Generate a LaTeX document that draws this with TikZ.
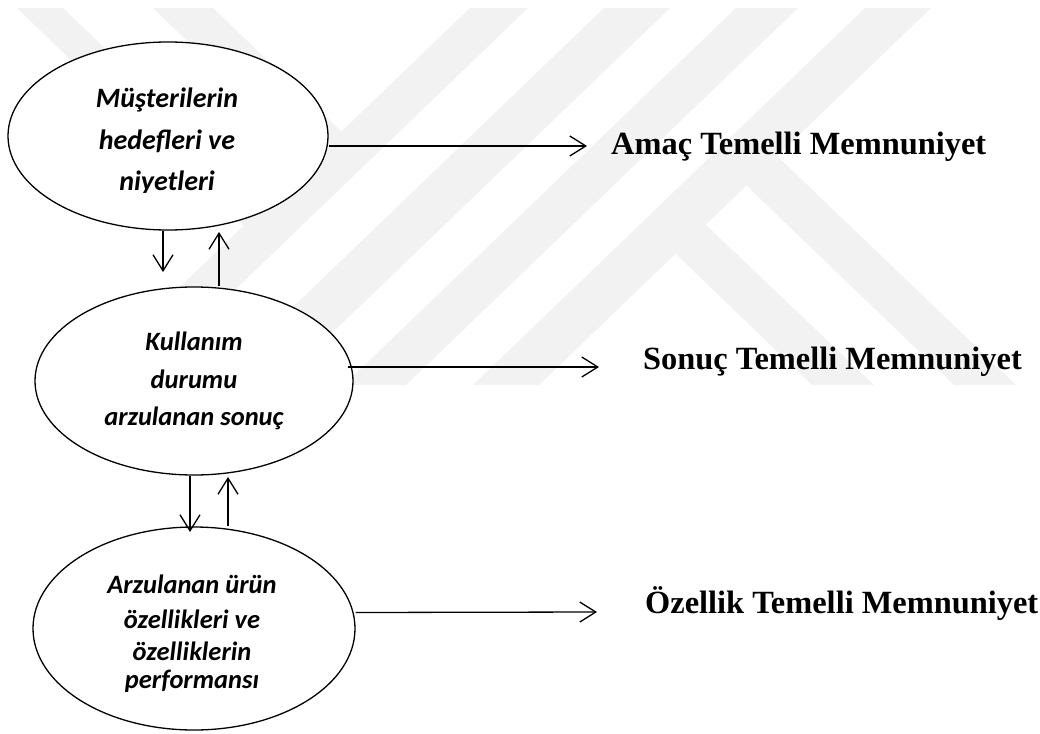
\documentclass[tikz,border=0pt]{standalone}
\usepackage{fontspec}
\setmainfont{Liberation Serif}
\newfontfamily\calib{Carlito}
\usetikzlibrary{arrows.meta,shapes.geometric}

\begin{document}
\begin{tikzpicture}[x=1pt,y=-1pt,
  bubble/.style={draw,ellipse,line width=1.3pt,fill=white,inner sep=0pt},
  bline/.style={anchor=base,inner sep=0pt,font=\calib\bfseries\itshape\fontsize{26.5}{30}\selectfont},
  bigline/.style={bline,font=\calib\bfseries\itshape\fontsize{28}{32}\selectfont},
  result/.style={anchor=base west,inner sep=0pt,font=\bfseries\fontsize{32.4}{38}\selectfont},
  flow/.style={line width=1.3pt,-{Straight Barb[length=16pt,width=20pt]}},
  wm/.style={fill=black!5,draw=none}]
\useasboundingbox (0,0) rectangle (1040,733);
\fill[white] (0,0) rectangle (1040,733);

% faint background emblem
\fill[wm] (470,8) -- (528,8) -- (136,385) -- (78,385) -- cycle;
\fill[wm] (604,8) -- (670,8) -- (278,385) -- (212,385) -- cycle;
\fill[wm] (736,8) -- (798,8) -- (406,385) -- (344,385) -- cycle;
\fill[wm] (865,8) -- (931,8) -- (539,385) -- (473,385) -- cycle;
\fill[wm] (777,156) -- (1016,385) -- (954,385) -- (746,185) -- cycle;
\fill[wm] (705,224) -- (874,385) -- (812,385) -- (676,254) -- cycle;
\fill[wm] (17,8) -- (63,8) -- (266.5,203.7) -- (272.5,253.7) -- cycle;
\fill[wm] (153,8) -- (213,8) -- (341.5,131.6) -- (340.5,188.3) -- cycle;

% the three levels
\node[bubble,minimum width=320pt,minimum height=188pt] (e1) at (168,136) {};
\node[bubble,minimum width=318pt,minimum height=188pt] (e2) at (194,381) {};
\node[bubble,minimum width=322pt,minimum height=203pt] (e3) at (194,628.5) {};

\node[bigline] (e1a) at (167,108) {Müşterilerin};
\node[bigline] (e1b) at (167,149) {hedefleri ve};
\begin{scope}
  \clip (0,0) rectangle (1040,192);
  \node[bigline] (e1c) at (167,190) {niyetleri};
\end{scope}

\node[bline] (e2a) at (194,350) {Kullanım};
\node[bline] (e2b) at (194,388) {durumu};
\node[bline] (e2c) at (194,425) {arzulanan sonuç};

\node[bline] (e3a) at (192,593) {Arzulanan ürün};
\node[bline] (e3b) at (192,628) {özellikleri ve};
\node[bline] (e3c) at (192,660) {özelliklerin};
\begin{scope}
  \clip (0,0) rectangle (1040,691);
  \node[bline] (e3d) at (192,688) {performansı};
\end{scope}

% satisfaction types
\node[result] (r1) at (611,154) {Amaç Temelli Memnuniyet};
\node[result] (r2) at (643,369) {Sonuç Temelli Memnuniyet};
\node[result] (r3) at (645,613) {Özellik Temelli Memnuniyet};

\coordinate (t1) at (587,146);
\coordinate (t2) at (599,367);
\coordinate (t3) at (597,612);
\draw[flow] ([yshift=-10pt]e1.east) -- (t1);
\draw[flow] ([xshift=-6pt,yshift=14pt]e2.east) -- (t2);
\draw[flow] ([yshift=16pt]e3.east) -- (t3);

% links between levels
\coordinate (d1) at (163,272);
\coordinate (u1) at (219,232);
\coordinate (d2) at (190,532);
\coordinate (u2) at (228,477);
\draw[flow] (e1.south -| d1) -- (d1);
\draw[flow] (e2.north -| u1) -- (u1);
\draw[flow] (e2.south -| d2) -- (d2);
\draw[flow] (e3.north -| u2) -- (u2);
\end{tikzpicture}
\end{document}
